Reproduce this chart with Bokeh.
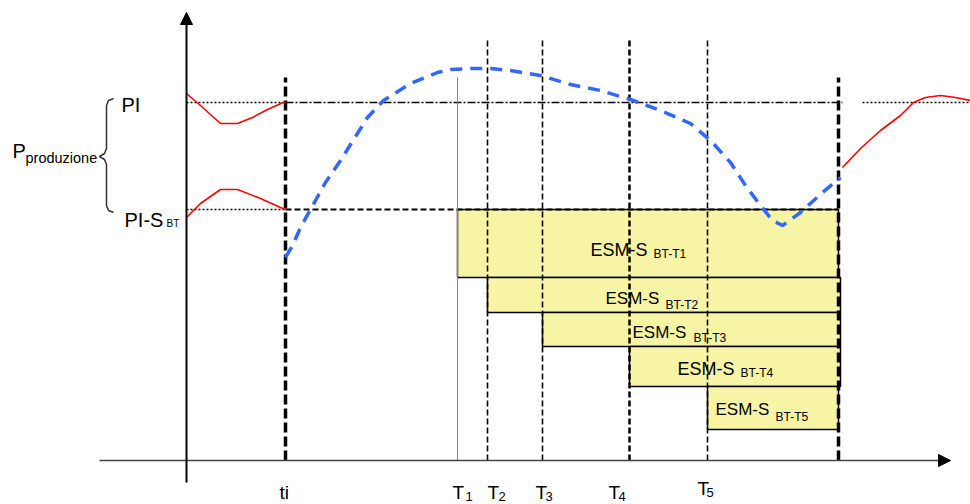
from bokeh.plotting import figure
from bokeh.models import Range1d, Arrow, NormalHead
from bokeh.core.properties import value
from bokeh.embed import file_html
from bokeh.resources import INLINE

FONT = value("Liberation Sans")

# --- data (time t, power P) ---
PI = 358          # nominal production level
PI_S = 251        # PI - S_BT level
t_i = 99          # start instant ti
t_end = 652       # end of the interval
T_marks = [271, 301, 356, 443, 521]            # T1..T5
esm_levels = [251, 183, 148, 114, 74, 31]      # ESM-S band limits
esm_names = ["BT-T1", "BT-T2", "BT-T3", "BT-T4", "BT-T5"]

red_up_t = [0, 14, 34, 51, 66, 81, 99]
red_up_P = [367, 355, 337, 337, 343, 351, 359]
red_lo_t = [0, 14, 34, 51, 74, 94, 99]
red_lo_P = [243, 257, 271, 271, 262, 253, 251]
red_end_t = [656, 674, 694, 714, 727, 739, 754, 769, 784]
red_end_P = [293, 312, 330, 345, 358, 363, 365, 363, 360]

blue_t = [99, 106, 114, 129, 139, 154, 181, 197, 224, 251, 264, 284, 304, 324,
          354, 384, 414, 444, 474, 504, 524, 544, 559, 574, 586, 596, 614, 636, 654]
blue_P = [203, 215, 233, 260, 278, 300, 343, 360, 377, 388, 391, 392, 392, 390,
          385, 376, 370, 361, 350, 337, 320, 298, 275, 255, 240, 235, 248, 268, 283]

brace_t = [-73, -78, -80, -80, -82, -87, -82, -80, -80, -78, -73]
brace_P = [362, 360, 355, 312, 307, 304, 301, 296, 255, 250, 248]

p = figure(width=970, height=504, output_backend="svg", toolbar_location=None,
           x_range=Range1d(-186, 784), y_range=Range1d(-44, 460),
           min_border=0, outline_line_color=None)
p.axis.visible = False
p.grid.visible = False
p.background_fill_color = "white"

# ESM rectangles
p.quad(left=T_marks, right=[t_end, t_end + 2, t_end + 2, t_end + 2, t_end],
       top=esm_levels[:-1], bottom=esm_levels[1:],
       fill_color="#F7F4A6", line_color="black", line_width=1.5)

# Horizontal level lines
p.line([0, t_i], [PI, PI], line_color="black", line_width=1.3, line_dash="2 2")
p.line([t_i, t_end + 4], [PI, PI], line_color="black", line_width=1.5, line_dash="8 2 2 2")
p.line([676, 790], [PI, PI], line_color="black", line_width=1.3, line_dash="2 2")
p.line([0, t_i], [PI_S, PI_S], line_color="black", line_width=1.3, line_dash="2 2")
p.line([t_i, t_end], [PI_S, PI_S], line_color="black", line_width=2, line_dash="6 3")

# Vertical instants
p.line([T_marks[0], T_marks[0]], [0, 383], line_color="#888888", line_width=1)
for i, tm in enumerate(T_marks[1:]):
    w = 2.5 if i == 2 else 1.6
    p.line([tm, tm], [0, 423], line_color="black", line_width=w, line_dash="6 3")
p.line([t_i, t_i], [0, 383], line_color="black", line_width=3.5, line_dash="10 4")
p.line([t_end, t_end], [0, 383], line_color="black", line_width=3.5, line_dash="10 4")

# Red curves
p.line(red_up_t, red_up_P, line_color="#FF0000", line_width=1.6)
p.line(red_lo_t, red_lo_P, line_color="#FF0000", line_width=1.6)
p.line(red_end_t, red_end_P, line_color="#FF0000", line_width=1.6)

# Blue forecast curve
p.line(blue_t, blue_P, line_color="#3366FF", line_width=3.5, line_dash="12 8")

# Axes with arrows
p.add_layout(Arrow(x_start=-87, y_start=0, x_end=764, y_end=0, line_color="#444444",
                   line_width=1.5,
                   end=NormalHead(size=12, fill_color="black", line_color="black")))
p.add_layout(Arrow(x_start=0, y_start=-22, x_end=0, y_end=448, line_color="black",
                   line_width=2,
                   end=NormalHead(size=12, fill_color="black", line_color="black")))

# Brace
p.line(brace_t, brace_P, line_color="#333333", line_width=1.5)


def label(x, y, txt, size):
    p.text(x=[x], y=[y], text=[txt], text_font=FONT, text_font_size=size,
           text_baseline="middle", text_align="left", text_color="black")


# Left labels
label(-65, 355.5, "PI", "20px")
label(-62, 240.5, "PI-S", "20px")
label(-20, 237, "BT", "10px")
label(-174, 310, "P", "20px")
label(-161, 303, "produzione", "14.5px")

# ESM labels
esm_x = [404, 419, 446, 491, 529]
esm_y = [211, 162.5, 128.5, 92, 51]
esm_sz = ["18px", "17px", "17px", "18px", "17px"]
sub_x = [467, 479, 507, 554, 589]
sub_y = [206.5, 156, 123, 88, 44]
for i in range(5):
    label(esm_x[i], esm_y[i], "ESM-S", esm_sz[i])
    label(sub_x[i], sub_y[i], esm_names[i], "12px")

# Bottom labels
label(93, -32, "ti", "19px")
T_lab_x = [266, 301, 349, 422, 511]
T_lab_y = [-32, -32, -32, -32, -28]
T_sub_x = [279, 312, 359, 432, 520]
T_sub_y = [-36, -36, -36, -36, -32]
for i in range(5):
    label(T_lab_x[i], T_lab_y[i], "T", "19px")
    label(T_sub_x[i], T_sub_y[i], str(i + 1), "13px")

open("out.html", "w").write(file_html(p, INLINE))
